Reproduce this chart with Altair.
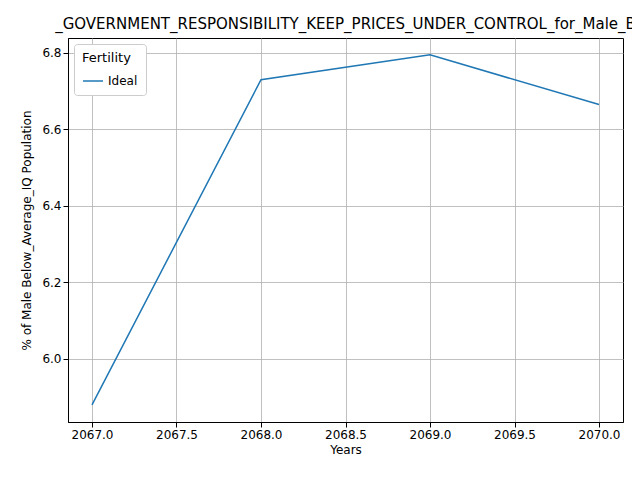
import altair as alt
import pandas as pd

years = [2067, 2068, 2069, 2070]
values = [5.88, 6.73, 6.795, 6.665]
series = ["Ideal"] * 4
df = pd.DataFrame({"Years": years, "Value": values, "Fertility": series})

chart = alt.Chart(df).mark_line(strokeWidth=1.5).encode(
    x=alt.X("Years:Q", scale=alt.Scale(domain=[2066.858, 2070.142], nice=False, zero=False),
            axis=alt.Axis(values=[2067, 2067.5, 2068, 2068.5, 2069, 2069.5, 2070], format=".1f",
                          title="Years")),
    y=alt.Y("Value:Q", scale=alt.Scale(domain=[5.835, 6.839], nice=False, zero=False),
            axis=alt.Axis(values=[6.0, 6.2, 6.4, 6.6, 6.8], format=".1f", titlePadding=8,
                          title="% of Male Below_Average_IQ Population")),
    color=alt.Color("Fertility:N", scale=alt.Scale(range=["#1f77b4"]),
                    legend=alt.Legend(orient="top-left", symbolType="stroke", symbolStrokeWidth=1.5,
                                      symbolSize=400, fillColor="white", strokeColor="#cccccc", padding=8,
                                      cornerRadius=3, offset=6, titleFontWeight="normal",
                                      titleFontSize=13, labelFontSize=12))
).properties(
    width=555, height=384,
    title=alt.TitleParams("_GOVERNMENT_RESPONSIBILITY_KEEP_PRICES_UNDER_CONTROL_for_Male_B",
                          fontSize=15, fontWeight="normal", anchor="middle", offset=6, font="DejaVu Sans")
).configure(
    autosize=alt.AutoSizeParams(type="none"),
    padding={"left": 60, "top": 30, "right": 9, "bottom": 50},
    font="DejaVu Sans"
).configure_axis(
    grid=True, gridColor="#b0b0b0", gridWidth=0.8, domainColor="black", tickColor="black",
    labelFontSize=12, titleFontSize=12, titleFontWeight="normal", labelColor="black", titleColor="black",
    tickSize=5
).configure_view(stroke="black", strokeWidth=1)

chart.save("out.html", embed_options={"renderer": "svg", "actions": False})
